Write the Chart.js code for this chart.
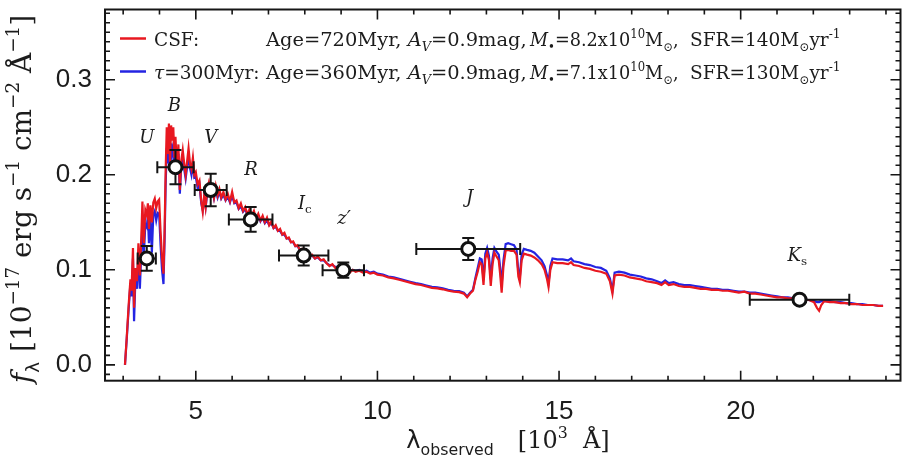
<!DOCTYPE html>
<html>
<head>
<meta charset="utf-8">
<script src="https://cdn.jsdelivr.net/npm/chart.js@4.4.1/dist/chart.umd.min.js"></script>
<style>
  html, body { margin: 0; padding: 0; background: #fff; overflow: hidden; width: 908px; height: 462px; }
  #wrap { position: relative; width: 910px; height: 462px; }
  canvas { display: block; }
</style>
</head>
<body>
<div id="wrap"><canvas id="sed" width="910" height="462"></canvas></div>
<script>
// Observed wavelength grid of the model spectra, in 10^3 Angstrom
const specWave = [
  3.05,3.10,3.15,3.20,3.23,3.27,3.30,3.34,3.38,3.42,
  3.46,3.50,3.53,3.57,3.61,3.65,3.68,3.71,3.75,3.79,
  3.83,3.87,3.91,3.95,3.99,4.03,4.07,4.11,4.14,4.17,
  4.20,4.23,4.26,4.29,4.32,4.35,4.38,4.41,4.44,4.48,
  4.52,4.56,4.60,4.64,4.68,4.72,4.76,4.80,4.84,4.88,
  4.92,4.96,5.00,5.05,5.10,5.15,5.19,5.23,5.27,5.32,
  5.36,5.40,5.45,5.50,5.55,5.60,5.65,5.70,5.76,5.82,
  5.88,5.94,6.00,6.06,6.12,6.18,6.24,6.30,6.36,6.42,
  6.48,6.54,6.60,6.66,6.72,6.78,6.84,6.90,6.96,7.02,
  7.08,7.14,7.20,7.26,7.32,7.38,7.44,7.50,7.56,7.62,
  7.68,7.74,7.80,7.86,7.92,7.98,8.05,8.12,8.20,8.28,
  8.36,8.44,8.52,8.60,8.68,8.76,8.84,8.92,9.00,9.08,
  9.16,9.24,9.32,9.40,9.50,9.60,9.70,9.80,9.90,10.00,
  10.15,10.30,10.45,10.60,10.75,10.90,11.05,11.20,11.35,11.50,
  11.65,11.80,11.95,12.10,12.25,12.38,12.47,12.55,12.63,12.70,
  12.76,12.82,12.87,12.92,12.97,13.02,13.07,13.12,13.17,13.22,
  13.28,13.34,13.38,13.42,13.47,13.53,13.60,13.68,13.76,13.83,
  13.88,13.92,13.97,14.03,14.12,14.22,14.32,14.42,14.52,14.60,
  14.67,14.71,14.76,14.82,14.95,15.10,15.25,15.33,15.40,15.55,
  15.70,15.85,16.00,16.15,16.30,16.40,16.47,16.53,16.65,16.80,
  16.95,17.10,17.25,17.40,17.55,17.70,17.82,17.92,18.02,18.15,
  18.30,18.45,18.60,18.75,18.90,19.05,19.20,19.35,19.50,19.65,
  19.80,19.95,20.10,20.25,20.40,20.55,20.70,20.85,21.00,21.15,
  21.30,21.45,21.60,21.75,21.90,22.02,22.10,22.16,22.22,22.30,
  22.45,22.60,22.75,22.90,23.05,23.20,23.35,23.50,23.65,23.80,23.92
];

// f_lambda of the constant star formation model (10^-17 erg s^-1 cm^-2 A^-1)
const fluxCSF = [
  0.000,0.030,0.062,0.090,0.078,0.123,0.060,0.102,0.088,0.128,
  0.094,0.135,0.172,0.128,0.163,0.158,0.170,0.143,0.168,0.150,
  0.171,0.175,0.165,0.172,0.174,0.140,0.112,0.096,0.140,0.205,
  0.250,0.222,0.254,0.212,0.252,0.236,0.250,0.218,0.240,0.205,
  0.232,0.184,0.215,0.226,0.212,0.200,0.214,0.228,0.212,0.206,
  0.218,0.200,0.203,0.190,0.194,0.172,0.161,0.178,0.166,0.186,
  0.192,0.183,0.187,0.176,0.188,0.178,0.185,0.176,0.182,0.174,
  0.180,0.172,0.182,0.171,0.173,0.165,0.170,0.162,0.166,0.158,
  0.164,0.157,0.162,0.154,0.159,0.152,0.157,0.150,0.155,0.147,
  0.151,0.144,0.147,0.141,0.143,0.137,0.139,0.133,0.134,0.129,
  0.130,0.125,0.126,0.121,0.122,0.117,0.118,0.114,0.116,0.112,
  0.114,0.110,0.111,0.107,0.104,0.106,0.102,0.103,0.100,0.096,
  0.101,0.097,0.100,0.098,0.099,0.097,0.098,0.096,0.097,0.095,
  0.094,0.092,0.091,0.0895,0.088,0.0865,0.085,0.084,0.0825,0.081,
  0.0805,0.0795,0.078,0.077,0.0765,0.075,0.071,0.075,0.078,0.090,
  0.098,0.108,0.106,0.084,0.112,0.118,0.110,0.083,0.106,0.118,
  0.114,0.110,0.095,0.076,0.104,0.120,0.121,0.120,0.120,0.116,
  0.093,0.087,0.110,0.117,0.116,0.115,0.113,0.110,0.106,0.100,
  0.090,0.082,0.100,0.108,0.107,0.107,0.106,0.108,0.105,0.104,
  0.102,0.101,0.099,0.098,0.096,0.088,0.075,0.094,0.095,0.094,
  0.092,0.091,0.090,0.088,0.087,0.086,0.084,0.087,0.084,0.085,
  0.083,0.082,0.082,0.081,0.080,0.080,0.079,0.079,0.078,0.078,
  0.077,0.076,0.077,0.075,0.075,0.074,0.073,0.072,0.071,0.071,
  0.070,0.070,0.069,0.069,0.068,0.066,0.060,0.057,0.063,0.067,
  0.066,0.066,0.065,0.065,0.064,0.064,0.063,0.063,0.063,0.062,0.062
];

// f_lambda of the exponentially declining (tau = 300 Myr) model
const fluxTau = [
  0.000,0.028,0.058,0.086,0.072,0.112,0.046,0.094,0.080,0.118,
  0.080,0.120,0.150,0.116,0.148,0.145,0.157,0.128,0.156,0.118,
  0.158,0.162,0.152,0.160,0.159,0.126,0.100,0.085,0.130,0.190,
  0.228,0.212,0.234,0.204,0.233,0.222,0.230,0.212,0.226,0.200,
  0.222,0.180,0.210,0.218,0.206,0.196,0.208,0.220,0.207,0.200,
  0.212,0.197,0.198,0.186,0.190,0.170,0.163,0.176,0.166,0.182,
  0.188,0.180,0.184,0.175,0.184,0.176,0.182,0.175,0.179,0.173,
  0.177,0.171,0.178,0.170,0.171,0.164,0.167,0.161,0.164,0.158,
  0.161,0.156,0.159,0.154,0.157,0.151,0.155,0.149,0.152,0.147,
  0.149,0.144,0.145,0.141,0.141,0.137,0.137,0.133,0.133,0.129,
  0.129,0.125,0.125,0.121,0.121,0.117,0.117,0.114,0.115,0.112,
  0.113,0.110,0.110,0.107,0.105,0.105,0.103,0.103,0.100,0.098,
  0.101,0.099,0.100,0.099,0.100,0.098,0.099,0.097,0.098,0.096,
  0.095,0.093,0.092,0.0905,0.089,0.0875,0.086,0.085,0.0835,0.082,
  0.0815,0.0805,0.079,0.078,0.0775,0.076,0.072,0.076,0.079,0.092,
  0.102,0.112,0.111,0.090,0.117,0.123,0.115,0.090,0.112,0.123,
  0.119,0.116,0.102,0.084,0.110,0.127,0.128,0.127,0.126,0.121,
  0.098,0.092,0.116,0.122,0.121,0.120,0.118,0.114,0.110,0.104,
  0.094,0.086,0.104,0.112,0.111,0.111,0.110,0.112,0.109,0.108,
  0.106,0.105,0.103,0.102,0.099,0.091,0.078,0.097,0.098,0.097,
  0.095,0.094,0.093,0.091,0.090,0.088,0.086,0.089,0.086,0.087,
  0.085,0.084,0.084,0.083,0.082,0.081,0.080,0.080,0.079,0.079,
  0.078,0.077,0.077,0.076,0.076,0.075,0.074,0.073,0.072,0.071,
  0.071,0.070,0.070,0.069,0.068,0.067,0.066,0.066,0.067,0.067,
  0.067,0.066,0.066,0.065,0.065,0.064,0.064,0.063,0.063,0.062,0.062
];

// Broad-band photometry
const bandNames   = ['U', 'B', 'V', 'R', 'Ic', "z'", 'J', 'Ks'];
const bandWave    = [3.65, 4.44, 5.41, 6.51, 7.97, 9.06, 12.50, 21.62];
const bandWaveErr = [0.25, 0.50, 0.44, 0.60, 0.68, 0.57, 1.43, 1.37];
const bandFlux    = [0.112, 0.208, 0.184, 0.153, 0.115, 0.0996, 0.122, 0.0686];
const bandFluxErr = [0.013, 0.018, 0.017, 0.013, 0.0105, 0.008, 0.0116, 0.004];

// Axis tick labels
const xTickValues = [5, 10, 15, 20];
const yTickValues = [0.0, 0.1, 0.2, 0.3];

const SERIF = '"DejaVu Serif", serif';
const SANS = '"DejaVu Sans", sans-serif';
const INK = '#1c1c1c';
const RED = 'rgb(232,24,32)';
const BLUE = 'rgb(36,36,226)';

// Rich text: runs of {t, it, sub, sup, fam, gap}
function runFont(r, size, fam) {
  const s = (r.sub || r.sup) ? size * 0.66 : size;
  return (r.it ? 'italic ' : '') + s.toFixed(1) + 'px ' + (r.fam || fam);
}
function richWidth(ctx, runs, size, fam) {
  let w = 0;
  for (const r of runs) { ctx.font = runFont(r, size, fam); w += ctx.measureText(r.t).width + (r.gap || 0); }
  return w;
}
function drawRich(ctx, runs, x, y, size, fam) {
  let cx = x;
  for (const r of runs) {
    ctx.font = runFont(r, size, fam);
    const dy = r.sub ? size * 0.30 : (r.sup ? -size * 0.42 : 0);
    ctx.fillText(r.t, cx, y + dy);
    cx += ctx.measureText(r.t).width + (r.gap || 0);
  }
  return cx;
}
// A group of runs starting at a fixed x, optionally stretched horizontally
function drawGroup(ctx, g, y, size, fam) {
  ctx.save();
  ctx.translate(g.at, y);
  ctx.scale(g.sx || 1, 1);
  drawRich(ctx, g.runs, 0, 0, size, fam);
  ctx.restore();
}

function modelRow(label, age, mass, sfr) {
  return [
    { at: 154, runs: label },
    { at: 266, sx: 1.05, runs: [{ t: 'Age=' + age + ', ' }, { t: 'A', it: 1 }, { t: 'V', it: 1, sub: 1 }, { t: '=0.9mag,' }] },
    { at: 530, sx: 0.955, runs: [{ t: 'M', it: 1 }, { t: '\u2022', sub: 1 }, { t: '=' + mass + 'x10' }, { t: '10', sup: 1 },
                                  { t: 'M' }, { t: '\u2299', sub: 1 }, { t: ',' }] },
    { at: 690, runs: [{ t: 'SFR=' + sfr + 'M' }, { t: '\u2299', sub: 1 }, { t: 'yr' }, { t: '-1', sup: 1 }] }
  ];
}

const legendRows = [
  { color: RED,  groups: modelRow([{ t: 'CSF:' }], '720Myr', '8.2', '140') },
  { color: BLUE, groups: modelRow([{ t: '\u03C4', it: 1 }, { t: '=300Myr:' }], '360Myr', '7.1', '130') }
];

// Where each band name sits, in data coordinates
const bandLabelSpots = [
  [3.65, 0.238], [4.41, 0.272], [5.41, 0.238], [6.52, 0.205],
  [8.00, 0.169], [9.08, 0.153], [12.54, 0.175], [21.56, 0.1145]
];

const errorBars = {
  id: 'errorBars',
  beforeDatasetDraw(chart, args) {
    if (args.index !== 0) return;
    const { ctx, scales: { x, y } } = chart;
    ctx.save();
    ctx.strokeStyle = '#141414';
    ctx.lineWidth = 2;
    bandWave.forEach((w, i) => {
      const cx = x.getPixelForValue(w), cy = y.getPixelForValue(bandFlux[i]);
      const x0 = x.getPixelForValue(w - bandWaveErr[i]), x1 = x.getPixelForValue(w + bandWaveErr[i]);
      const y0 = y.getPixelForValue(bandFlux[i] - bandFluxErr[i]), y1 = y.getPixelForValue(bandFlux[i] + bandFluxErr[i]);
      ctx.beginPath();
      ctx.moveTo(x0, cy); ctx.lineTo(x1, cy);
      ctx.moveTo(x0, cy - 6); ctx.lineTo(x0, cy + 6);
      ctx.moveTo(x1, cy - 6); ctx.lineTo(x1, cy + 6);
      ctx.moveTo(cx, y0); ctx.lineTo(cx, y1);
      ctx.moveTo(cx - 6, y0); ctx.lineTo(cx + 6, y0);
      ctx.moveTo(cx - 6, y1); ctx.lineTo(cx + 6, y1);
      ctx.stroke();
    });
    ctx.restore();
  }
};

const frameTicks = {
  id: 'frameTicks',
  afterDatasetsDraw(chart) {
    const { ctx, chartArea: a, scales: { x, y } } = chart;
    ctx.save();
    ctx.strokeStyle = '#161616';
    ctx.lineWidth = 1.6;
    ctx.beginPath();
    for (let v = Math.ceil(x.min); v <= Math.floor(x.max); v++) {
      const px = x.getPixelForValue(v);
      const len = v % 5 === 0 ? 10 : 5;
      ctx.moveTo(px, a.bottom); ctx.lineTo(px, a.bottom - len);
      ctx.moveTo(px, a.top); ctx.lineTo(px, a.top + len);
    }
    for (let i = Math.ceil(y.min * 100); i <= Math.floor(y.max * 100); i++) {
      const py = y.getPixelForValue(i / 100);
      const len = i % 10 === 0 ? 10 : 5;
      ctx.moveTo(a.left, py); ctx.lineTo(a.left + len, py);
      ctx.moveTo(a.right, py); ctx.lineTo(a.right - len, py);
    }
    ctx.stroke();
    ctx.lineWidth = 2;
    ctx.strokeRect(a.left, a.top, a.right - a.left, a.bottom - a.top);
    ctx.restore();
  }
};

const annotations = {
  id: 'annotations',
  afterDraw(chart) {
    const { ctx, scales: { x, y } } = chart;
    ctx.save();
    ctx.fillStyle = INK;
    ctx.textBaseline = 'alphabetic';
    ctx.textAlign = 'left';

    // legend rows
    legendRows.forEach((row, k) => {
      const ly = 38.5 + k * 33;
      ctx.strokeStyle = row.color;
      ctx.lineWidth = 2.5;
      ctx.beginPath(); ctx.moveTo(120, ly); ctx.lineTo(146, ly); ctx.stroke();
      row.groups.forEach(g => drawGroup(ctx, g, ly + 7, 18.5, SERIF));
    });

    // band names
    ctx.textBaseline = 'middle';
    bandNames.forEach((name, i) => {
      const px = x.getPixelForValue(bandLabelSpots[i][0]);
      const py = y.getPixelForValue(bandLabelSpots[i][1]);
      let runs;
      if (name === 'Ic') runs = [{ t: 'I', it: 1 }, { t: 'c', sub: 1 }];
      else if (name === 'Ks') runs = [{ t: 'K', it: 1 }, { t: 's', sub: 1 }];
      else if (name === "z'") runs = [{ t: 'z', it: 1 }, { t: '\u2032', it: 1 }];
      else runs = [{ t: name, it: 1 }];
      const w = richWidth(ctx, runs, 18, SERIF);
      drawRich(ctx, runs, px - w / 2, py, 18, SERIF);
    });

    // x axis title
    ctx.textBaseline = 'alphabetic';
    const xt = [
      { t: '\u03BB', fam: SANS },
      { t: 'observed', fam: SANS, sub: 1, gap: 24 },
      { t: '[10' }, { t: '3', sup: 1 }, { t: '  \u00C5]' }
    ];
    const xw = richWidth(ctx, xt, 24, SERIF);
    drawRich(ctx, xt, 508 - xw / 2, 448, 24, SERIF);

    // y axis title, rotated
    const yt = [
      { t: 'f', it: 1 }, { t: '\u03BB', sub: 1, fam: SANS, gap: 10 },
      { t: '[10' }, { t: '\u221217', sup: 1 }, { t: ' erg s' }, { t: '\u22121', sup: 1 },
      { t: ' cm' }, { t: '\u22122', sup: 1 }, { t: ' \u00C5' }, { t: '\u22121', sup: 1 }, { t: ']' }
    ];
    let ys = 24;
    const natural = richWidth(ctx, yt, ys, SERIF);
    ys = ys * 370 / natural;
    const yw = richWidth(ctx, yt, ys, SERIF);
    ctx.translate(31, 199);
    ctx.rotate(-Math.PI / 2);
    drawRich(ctx, yt, -yw / 2, 0, ys, SERIF);
    ctx.restore();
  }
};

const specPoints = (fl) => specWave.map((w, i) => ({ x: w, y: fl[i] }));
const tickFont = { family: '"Liberation Sans", Arial, sans-serif', size: 26 };

new Chart(document.getElementById('sed'), {
  type: 'scatter',
  data: {
    datasets: [
      {
        label: 'photometry',
        data: bandWave.map((w, i) => ({ x: w, y: bandFlux[i] })),
        pointRadius: 6.5,
        pointBorderWidth: 3,
        pointBackgroundColor: '#ffffff',
        pointBorderColor: '#111111',
        order: 0
      },
      {
        label: 'CSF',
        data: specPoints(fluxCSF),
        showLine: true,
        pointRadius: 0,
        borderColor: RED,
        borderWidth: 2.2,
        tension: 0,
        order: 1
      },
      {
        label: 'tau=300Myr',
        data: specPoints(fluxTau),
        showLine: true,
        pointRadius: 0,
        borderColor: BLUE,
        borderWidth: 2.2,
        tension: 0,
        order: 2
      }
    ]
  },
  options: {
    responsive: false,
    animation: false,
    events: [],
    layout: { padding: { top: 6.5, right: 0, left: 0, bottom: 0 } },
    plugins: { legend: { display: false }, tooltip: { enabled: false }, title: { display: false } },
    scales: {
      x: {
        type: 'linear',
        min: 2.5,
        max: 24.4,
        afterBuildTicks: (s) => { s.ticks = xTickValues.map(v => ({ value: v })); },
        afterFit: (s) => { s.height = 81.3; s.paddingLeft = 0; s.paddingRight = 0; },
        grid: { display: false, drawTicks: false },
        border: { display: false },
        ticks: { color: INK, padding: 16, maxRotation: 0, autoSkip: false, font: tickFont,
                 callback: (v) => String(v) }
      },
      y: {
        type: 'linear',
        min: -0.0167,
        max: 0.374,
        afterBuildTicks: (s) => { s.ticks = yTickValues.map(v => ({ value: v })); },
        afterFit: (s) => { s.width = 105; s.paddingTop = 0; s.paddingBottom = 0; },
        grid: { display: false, drawTicks: false },
        border: { display: false },
        ticks: { color: INK, padding: 13, autoSkip: false, font: tickFont,
                 callback: (v) => Number(v).toFixed(1) }
      }
    }
  },
  plugins: [errorBars, frameTicks, annotations]
});
</script>
</body>
</html>
